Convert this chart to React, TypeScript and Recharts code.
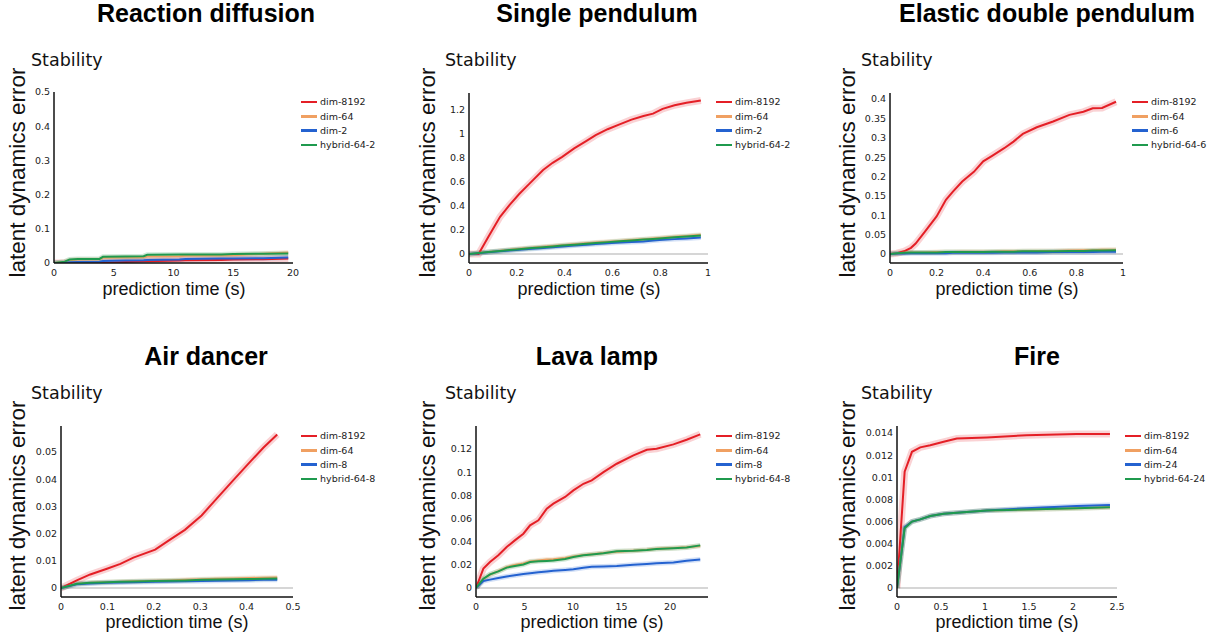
import { LineChart, Line, XAxis, YAxis, ReferenceLine, Legend } from 'recharts'

// ---- data ----

// Reaction diffusion
const rdTime = [0, 0.9, 1.3, 2, 3.8, 4.1, 6, 7.5, 7.8, 10.5, 11, 14, 15, 17.5, 19.6]
const rdDim8192 = [0, 0, 0, 0.001, 0.001, 0.001, 0.003, 0.005, 0.005, 0.007, 0.008, 0.009, 0.01, 0.011, 0.013]
const rdDim64 = [0, 0.003, 0.008, 0.01, 0.011, 0.015, 0.016, 0.017, 0.019, 0.02, 0.021, 0.022, 0.023, 0.027, 0.031]
const rdDimLow = [0, 0.001, 0.002, 0.003, 0.004, 0.006, 0.007, 0.008, 0.009, 0.01, 0.012, 0.013, 0.013, 0.014, 0.016]
const rdHybrid = [0, 0.004, 0.01, 0.012, 0.012, 0.018, 0.019, 0.02, 0.024, 0.025, 0.025, 0.025, 0.026, 0.027, 0.028]

// Single pendulum
const spTime = [0, 0.04, 0.08, 0.13, 0.17, 0.21, 0.25, 0.31, 0.35, 0.39, 0.44, 0.49, 0.53, 0.58, 0.63, 0.68, 0.73, 0.77, 0.81, 0.86, 0.91, 0.97]
const spDim8192 = [0, 0, 0.14, 0.31, 0.41, 0.5, 0.58, 0.7, 0.76, 0.81, 0.88, 0.94, 0.99, 1.04, 1.08, 1.12, 1.15, 1.17, 1.21, 1.24, 1.26, 1.28]
const spDim64 = [0, 0.008, 0.017, 0.027, 0.035, 0.043, 0.05, 0.06, 0.066, 0.073, 0.081, 0.089, 0.095, 0.102, 0.109, 0.116, 0.123, 0.129, 0.136, 0.143, 0.151, 0.16]
const spDimLow = [0, 0.007, 0.014, 0.022, 0.029, 0.035, 0.041, 0.05, 0.056, 0.063, 0.07, 0.078, 0.083, 0.089, 0.095, 0.1, 0.105, 0.112, 0.118, 0.124, 0.13, 0.138]
const spHybrid = [0, 0.008, 0.016, 0.025, 0.033, 0.04, 0.047, 0.057, 0.063, 0.07, 0.078, 0.086, 0.092, 0.099, 0.106, 0.113, 0.12, 0.126, 0.132, 0.139, 0.146, 0.155]

// Elastic double pendulum
const edTime = [0, 0.03, 0.06, 0.09, 0.11, 0.15, 0.2, 0.24, 0.27, 0.31, 0.36, 0.4, 0.44, 0.49, 0.53, 0.57, 0.63, 0.7, 0.77, 0.83, 0.87, 0.91, 0.97]
const edDim8192 = [0, 0.002, 0.007, 0.016, 0.027, 0.058, 0.097, 0.14, 0.161, 0.187, 0.212, 0.239, 0.254, 0.273, 0.29, 0.31, 0.327, 0.342, 0.359, 0.367, 0.376, 0.377, 0.393]
const edDim64 = [0, 0.002, 0.003, 0.004, 0.004, 0.004, 0.005, 0.005, 0.005, 0.006, 0.006, 0.006, 0.006, 0.007, 0.007, 0.007, 0.008, 0.008, 0.009, 0.01, 0.01, 0.011, 0.011]
const edDimLow = [0, 0.001, 0.001, 0.002, 0.002, 0.002, 0.002, 0.002, 0.003, 0.003, 0.003, 0.003, 0.003, 0.004, 0.004, 0.004, 0.004, 0.005, 0.005, 0.005, 0.005, 0.006, 0.006]
const edHybrid = [0, 0.002, 0.003, 0.004, 0.004, 0.004, 0.004, 0.005, 0.005, 0.005, 0.005, 0.005, 0.006, 0.006, 0.006, 0.007, 0.007, 0.007, 0.008, 0.008, 0.009, 0.009, 0.01]

// Air dancer
const adTime = [0, 0.034, 0.063, 0.099, 0.128, 0.156, 0.203, 0.235, 0.267, 0.303, 0.335, 0.371, 0.407, 0.436, 0.466]
const adDim8192 = [0, 0.0028, 0.005, 0.0071, 0.0089, 0.0112, 0.0141, 0.0178, 0.0214, 0.0267, 0.0328, 0.0396, 0.0463, 0.0516, 0.0565]
const adDim64 = [0, 0.0015, 0.0019, 0.0021, 0.0023, 0.0025, 0.0027, 0.0028, 0.003, 0.0032, 0.0034, 0.0035, 0.0037, 0.0038, 0.0039]
const adDimLow = [0, 0.0014, 0.0017, 0.0019, 0.002, 0.0021, 0.0023, 0.0024, 0.0025, 0.0026, 0.0027, 0.0028, 0.0029, 0.003, 0.003]
const adHybrid = [0, 0.0016, 0.0019, 0.0021, 0.0023, 0.0024, 0.0026, 0.0027, 0.0028, 0.003, 0.0031, 0.0032, 0.0033, 0.0034, 0.0035]

// Lava lamp
const llTime = [0, 0.76, 1.44, 2.3, 3.16, 4.0, 4.88, 5.57, 6.43, 7.29, 7.97, 9.18, 10.03, 11.07, 11.92, 13.13, 14.5, 16.22, 17.6, 18.6, 20.34, 21.7, 23.1]
const llDim8192 = [0, 0.0167, 0.0224, 0.0282, 0.0354, 0.0411, 0.0469, 0.0541, 0.0584, 0.0685, 0.0728, 0.0786, 0.0843, 0.09, 0.093, 0.1001, 0.1073, 0.1145, 0.1194, 0.1203, 0.124, 0.128, 0.1327]
const llDim64 = [0, 0.0075, 0.0115, 0.0145, 0.018, 0.0198, 0.0212, 0.0228, 0.0238, 0.0245, 0.0248, 0.0258, 0.0272, 0.0285, 0.0292, 0.0302, 0.0312, 0.0322, 0.033, 0.0338, 0.0345, 0.0352, 0.0362]
const llDimLow = [0, 0.006, 0.0072, 0.0086, 0.0099, 0.011, 0.0121, 0.0128, 0.0136, 0.0143, 0.0148, 0.0156, 0.0162, 0.0175, 0.0183, 0.0186, 0.019, 0.02, 0.0208, 0.0214, 0.0219, 0.0235, 0.0245]
const llHybrid = [0, 0.008, 0.0118, 0.0143, 0.0176, 0.019, 0.0203, 0.0224, 0.023, 0.0234, 0.0237, 0.025, 0.0268, 0.0282, 0.0289, 0.03, 0.0317, 0.0322, 0.0329, 0.0337, 0.0343, 0.035, 0.0368]

// Fire
const frTime = [0, 0.087, 0.17, 0.264, 0.378, 0.53, 0.68, 1.02, 1.47, 2.04, 2.42]
const frDim8192 = [0, 0.0105, 0.0123, 0.0127, 0.0129, 0.0132, 0.0135, 0.0136, 0.0138, 0.0139, 0.0139]
const frDim64 = [0, 0.0055, 0.006, 0.0062, 0.0065, 0.0067, 0.0068, 0.007, 0.0071, 0.0072, 0.0073]
const frDimLow = [0, 0.0055, 0.006, 0.0062, 0.0065, 0.0067, 0.0068, 0.007, 0.0072, 0.0074, 0.0075]
const frHybrid = [0, 0.0054, 0.006, 0.0062, 0.0065, 0.0067, 0.0068, 0.007, 0.0071, 0.0072, 0.0073]

// ticks
const rdYTicks = [0, 0.1, 0.2, 0.3, 0.4, 0.5]
const rdXTicks = [0, 5, 10, 15, 20]
const spYTicks = [0, 0.2, 0.4, 0.6, 0.8, 1, 1.2]
const unitXTicks = [0, 0.2, 0.4, 0.6, 0.8, 1]
const edYTicks = [0, 0.05, 0.1, 0.15, 0.2, 0.25, 0.3, 0.35, 0.4]
const adYTicks = [0, 0.01, 0.02, 0.03, 0.04, 0.05]
const adXTicks = [0, 0.1, 0.2, 0.3, 0.4, 0.5]
const llYTicks = [0, 0.02, 0.04, 0.06, 0.08, 0.1, 0.12]
const llXTicks = [0, 5, 10, 15, 20]
const frYTicks = [0, 0.002, 0.004, 0.006, 0.008, 0.01, 0.012, 0.014]
const frXTicks = [0, 0.5, 1, 1.5, 2, 2.5]

// ---- styling / layout ----
const COLORS = ['#e41f26', '#f0a062', '#2462d0', '#1f9a4e']
const BAND_W = [7, 5, 5, 5]
const Y_W = 50
const M_TOP = 10
const M_RIGHT = 90
const X_H = 24
const ROW_GAP = 14.3

const tickStyle = { fontFamily: 'DejaVu Sans', fontSize: 9.5, fill: '#222' }
const axisLineStyle = { stroke: '#111', strokeWidth: 1.5 }

interface PanelSpec {
  title: string
  labels: string[]
  time: number[]
  series: number[][]
  xDomain: [number, number]
  yDomain: [number, number]
  xTicks: number[]
  yTicks: number[]
  zeroLine: boolean
  // plot box in page pixels
  L: number; T: number; R: number; B: number
  legendX: number; legendY: number
  titleX: number; titleY: number
  stabX: number; stabY: number
  yLabelX: number; yLabelY: number
  xLabelX: number; xLabelY: number
}

const panels: PanelSpec[] = [
  {
    title: 'Reaction diffusion', labels: ['dim-8192', 'dim-64', 'dim-2', 'hybrid-64-2'],
    time: rdTime, series: [rdDim8192, rdDim64, rdDimLow, rdHybrid],
    xDomain: [0, 20], yDomain: [0, 0.5], xTicks: rdXTicks, yTicks: rdYTicks, zeroLine: false,
    L: 54, T: 92, R: 293, B: 263, legendX: 301, legendY: 102,
    titleX: 206, titleY: 21.5, stabX: 31, stabY: 66, yLabelX: 25, yLabelY: 172.5, xLabelX: 174, xLabelY: 295,
  },
  {
    title: 'Single pendulum', labels: ['dim-8192', 'dim-64', 'dim-2', 'hybrid-64-2'],
    time: spTime, series: [spDim8192, spDim64, spDimLow, spHybrid],
    xDomain: [0, 1], yDomain: [-0.075, 1.342], xTicks: unitXTicks, yTicks: spYTicks, zeroLine: true,
    L: 469, T: 93, R: 708, B: 263, legendX: 716, legendY: 102,
    titleX: 597, titleY: 21.5, stabX: 445, stabY: 66, yLabelX: 435, yLabelY: 172.5, xLabelX: 589, xLabelY: 295,
  },
  {
    title: 'Elastic double pendulum', labels: ['dim-8192', 'dim-64', 'dim-6', 'hybrid-64-6'],
    time: edTime, series: [edDim8192, edDim64, edDimLow, edHybrid],
    xDomain: [0, 1], yDomain: [-0.0232, 0.4155], xTicks: unitXTicks, yTicks: edYTicks, zeroLine: true,
    L: 890, T: 93, R: 1123, B: 263, legendX: 1132, legendY: 102,
    titleX: 1047, titleY: 21.5, stabX: 861, stabY: 66, yLabelX: 855, yLabelY: 172.5, xLabelX: 1007, xLabelY: 295,
  },
  {
    title: 'Air dancer', labels: ['dim-8192', 'dim-64', 'dim-8', 'hybrid-64-8'],
    time: adTime, series: [adDim8192, adDim64, adDimLow, adHybrid],
    xDomain: [0, 0.5], yDomain: [-0.0033, 0.0596], xTicks: adXTicks, yTicks: adYTicks, zeroLine: true,
    L: 61, T: 426, R: 293, B: 597, legendX: 301, legendY: 436,
    titleX: 206, titleY: 365, stabX: 31, stabY: 399, yLabelX: 25, yLabelY: 505.5, xLabelX: 177, xLabelY: 628,
  },
  {
    title: 'Lava lamp', labels: ['dim-8192', 'dim-64', 'dim-8', 'hybrid-64-8'],
    time: llTime, series: [llDim8192, llDim64, llDimLow, llHybrid],
    xDomain: [0, 23.9], yDomain: [-0.0078, 0.1399], xTicks: llXTicks, yTicks: llYTicks, zeroLine: true,
    L: 476, T: 426, R: 708, B: 597, legendX: 716, legendY: 436,
    titleX: 597, titleY: 365, stabX: 445, stabY: 399, yLabelX: 435, yLabelY: 505.5, xLabelX: 592, xLabelY: 628,
  },
  {
    title: 'Fire', labels: ['dim-8192', 'dim-64', 'dim-24', 'hybrid-64-24'],
    time: frTime, series: [frDim8192, frDim64, frDimLow, frHybrid],
    xDomain: [0, 2.5], yDomain: [-0.00081, 0.01463], xTicks: frXTicks, yTicks: frYTicks, zeroLine: true,
    L: 897, T: 426, R: 1117, B: 597, legendX: 1125, legendY: 436,
    titleX: 1037, titleY: 365, stabX: 861, stabY: 399, yLabelX: 855, yLabelY: 505.5, xLabelX: 1007, xLabelY: 628,
  },
]

function Panel({ p }: { p: PanelSpec }) {
  const data = p.time.map((t, i) => ({
    t, s0: p.series[0][i], s1: p.series[1][i], s2: p.series[2][i], s3: p.series[3][i],
  }))
  const left = p.L - Y_W
  const top = p.T - M_TOP
  const width = Y_W + (p.R - p.L) + M_RIGHT
  const height = M_TOP + (p.B - p.T) + X_H
  const keys = ['s0', 's1', 's2', 's3']

  return (
    <div style={{ position: 'absolute', left, top }}>
      <LineChart width={width} height={height} data={data} margin={{ top: M_TOP, right: M_RIGHT, bottom: 0, left: 0 }}>
        <XAxis
          dataKey="t" type="number" domain={p.xDomain} ticks={p.xTicks} interval={0} allowDataOverflow
          height={X_H} tickLine={false} tickSize={4} tickMargin={2} axisLine={axisLineStyle} tick={tickStyle}
        />
        <YAxis
          type="number" domain={p.yDomain} ticks={p.yTicks} interval={0} allowDataOverflow
          width={Y_W} tickLine={false} tickSize={3} tickMargin={1} axisLine={axisLineStyle} tick={tickStyle}
        />
        {p.zeroLine && <ReferenceLine y={0} stroke="#c8c8c8" strokeWidth={1.5} />}
        {keys.map((k, i) => (
          <Line key={'band-' + k} dataKey={k} type="linear" stroke={COLORS[i]} strokeOpacity={0.2}
            strokeWidth={BAND_W[i]} dot={false} activeDot={false} isAnimationActive={false} legendType="none" />
        ))}
        {keys.map((k, i) => (
          <Line key={k} dataKey={k} name={p.labels[i]} type="linear" stroke={COLORS[i]}
            strokeWidth={2} dot={false} activeDot={false} isAnimationActive={false} />
        ))}
        <Legend
          layout="horizontal" verticalAlign="middle" align="center"
          wrapperStyle={{ left: p.legendX - left, top: p.legendY - ROW_GAP / 2 - top, width: 'auto', height: 'auto' }}
          content={() => (
            <div style={{ fontFamily: 'DejaVu Sans', fontSize: 9.5, color: '#222' }}>
              {p.labels.map((lab, i) => (
                <div key={lab} style={{ display: 'flex', alignItems: 'center', height: ROW_GAP, whiteSpace: 'nowrap' }}>
                  <span style={{ display: 'inline-block', width: 16, height: 2.5, background: COLORS[i], marginRight: 3 }} />
                  <span>{lab}</span>
                </div>
              ))}
            </div>
          )}
        />
      </LineChart>
    </div>
  )
}

export default function App() {
  return (
    <div style={{ position: 'absolute', left: 0, top: 0, width: 1214, height: 642, background: '#fff', overflow: 'hidden' }}>
      {panels.map(p => <Panel key={p.title} p={p} />)}
      <svg width={1214} height={642} style={{ position: 'absolute', left: 0, top: 0, pointerEvents: 'none' }}>
        {panels.map(p => (
          <g key={p.title}>
            <text x={p.titleX} y={p.titleY} textAnchor="middle" fontFamily="Liberation Sans" fontWeight="bold" fontSize={25} fill="#000">
              {p.title}
            </text>
            <text x={p.stabX} y={p.stabY} fontFamily="DejaVu Sans" fontSize={17.5} fill="#111">Stability</text>
            <text x={p.yLabelX} y={p.yLabelY} textAnchor="middle" fontFamily="Liberation Sans" fontSize={22.5} fill="#111"
              transform={`rotate(-90 ${p.yLabelX} ${p.yLabelY})`}>
              latent dynamics error
            </text>
            <text x={p.xLabelX} y={p.xLabelY} textAnchor="middle" fontFamily="Liberation Sans" fontSize={18} fill="#111">
              prediction time (s)
            </text>
          </g>
        ))}
      </svg>
    </div>
  )
}
